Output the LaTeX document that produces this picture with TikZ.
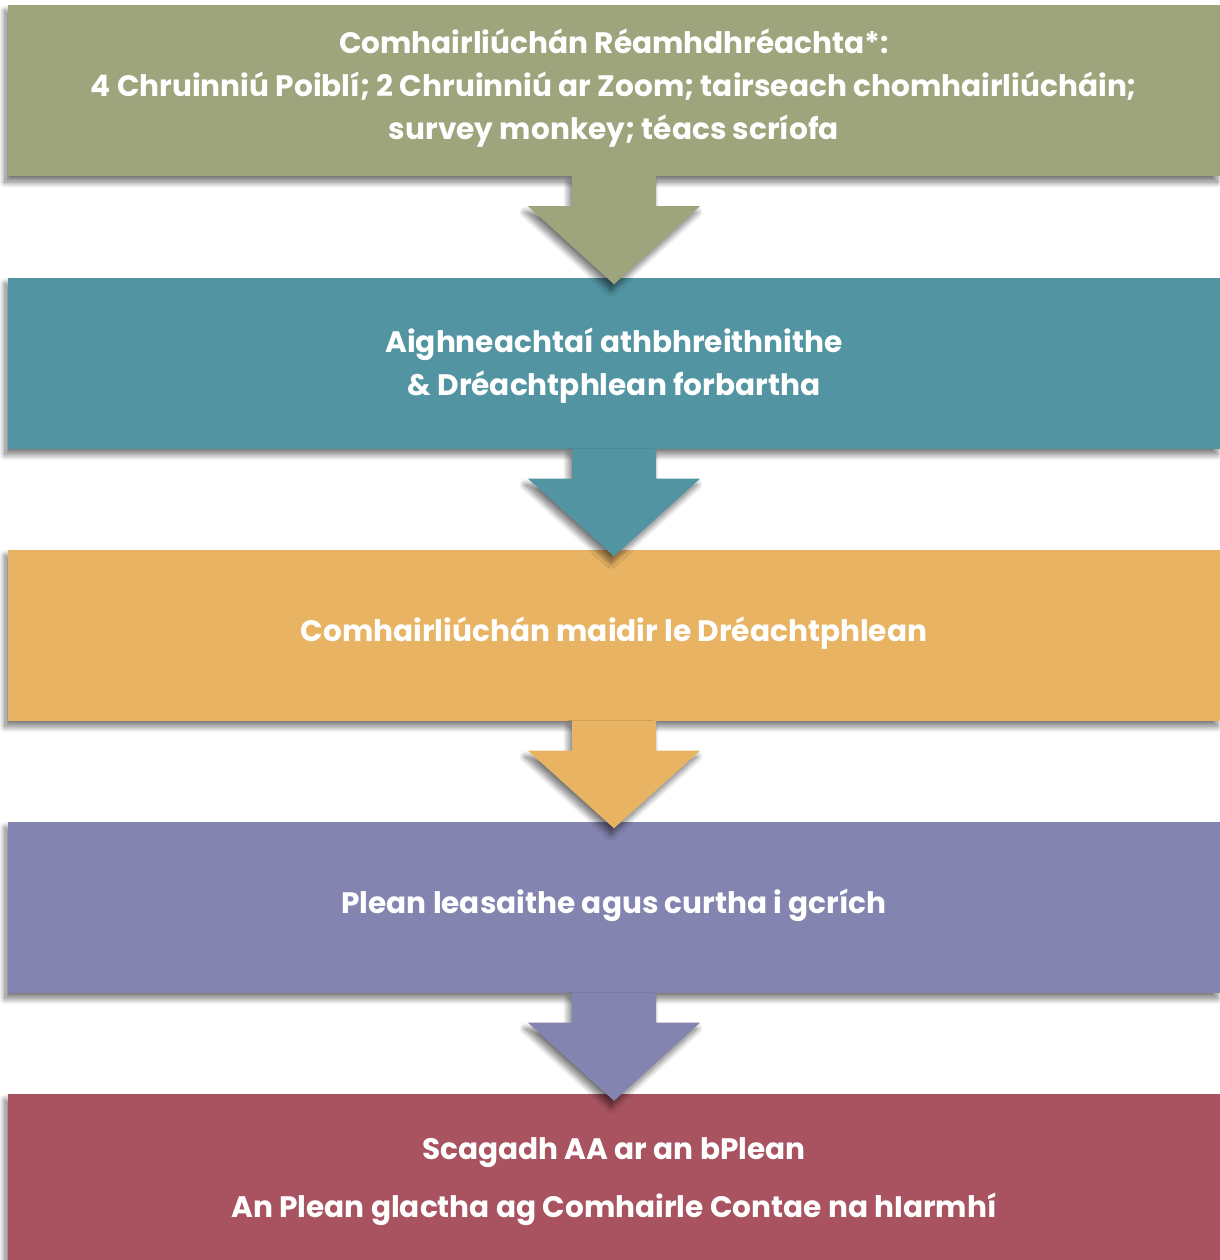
\documentclass[tikz,border=0pt]{standalone}
\usepackage{fontspec}
\setmainfont{Poppins}
\usetikzlibrary{calc,shadows.blur}
\definecolor{cA}{HTML}{9EA57C}
\definecolor{cB}{HTML}{5294A2}
\definecolor{cC}{HTML}{E8B464}
\definecolor{cD}{HTML}{8484B0}
\definecolor{cE}{HTML}{A8535F}
\tikzset{
  shd/.style={blur shadow={shadow xshift=-3pt,shadow yshift=-6pt,shadow blur radius=6pt,shadow blur steps=12,shadow opacity=55}},
  stage/.style={shd,rectangle,inner sep=0pt,minimum width=1212pt,minimum height=171pt},
  txt/.style={inner sep=0pt,text=white,align=center,font=\bfseries\fontsize{29.6}{43}\selectfont},
  flow/.style={shd}
}
\begin{document}
\begin{tikzpicture}[x=1pt,y=-1pt]
\useasboundingbox (0,0) rectangle (1219,1260);
\node[stage,fill=cA] (b1) at (614,90.5) {};
\node[stage,fill=cB] (b2) at (614,363) {};
\node[stage,fill=cC] (b3) at (614,635) {};
\node[stage,fill=cD] (b4) at (614,907) {};
\node[stage,fill=cE] (b5) at (614,1179.5) {};
\node[txt] (t1) at ($(b1.center)+(0,-2.5)$) {Comhairliúchán Réamhdhréachta*:\\4 Chruinniú Poiblí; 2 Chruinniú ar Zoom; tairseach chomhairliúcháin;\\survey monkey; téacs scríofa};
\node[txt] (t2) at ($(b2.center)+(0,2.5)$) {Aighneachtaí athbhreithnithe\\\& Dréachtphlean forbartha};
\node[txt] (t3) at ($(b3.center)+(0,-2)$) {Comhairliúchán maidir le Dréachtphlean};
\node[txt] (t4) at ($(b4.center)+(0,-2)$) {Plean leasaithe agus curtha i gcrích};
\node[txt] (t5) at ($(b5.center)+(0,2.5)$) {Scagadh AA ar an bPlean\\[15pt]An Plean glactha ag Comhairle Contae na hIarmhí};
\foreach \a/\b/\c in {b1/b2/cA,b2/b3/cB,b3/b4/cC,b4/b5/cD}{
  \fill[flow,fill=\c] ($(\a.south)+(-42,0)$) -- ($(\a.south)+(-42,30)$) -- ($(\a.south)+(-86,30)$)
     -- ($(\b.north)+(0,7)$) -- ($(\a.south)+(86,30)$) -- ($(\a.south)+(42,30)$) -- ($(\a.south)+(42,0)$) -- cycle;
}
\end{tikzpicture}
\end{document}
